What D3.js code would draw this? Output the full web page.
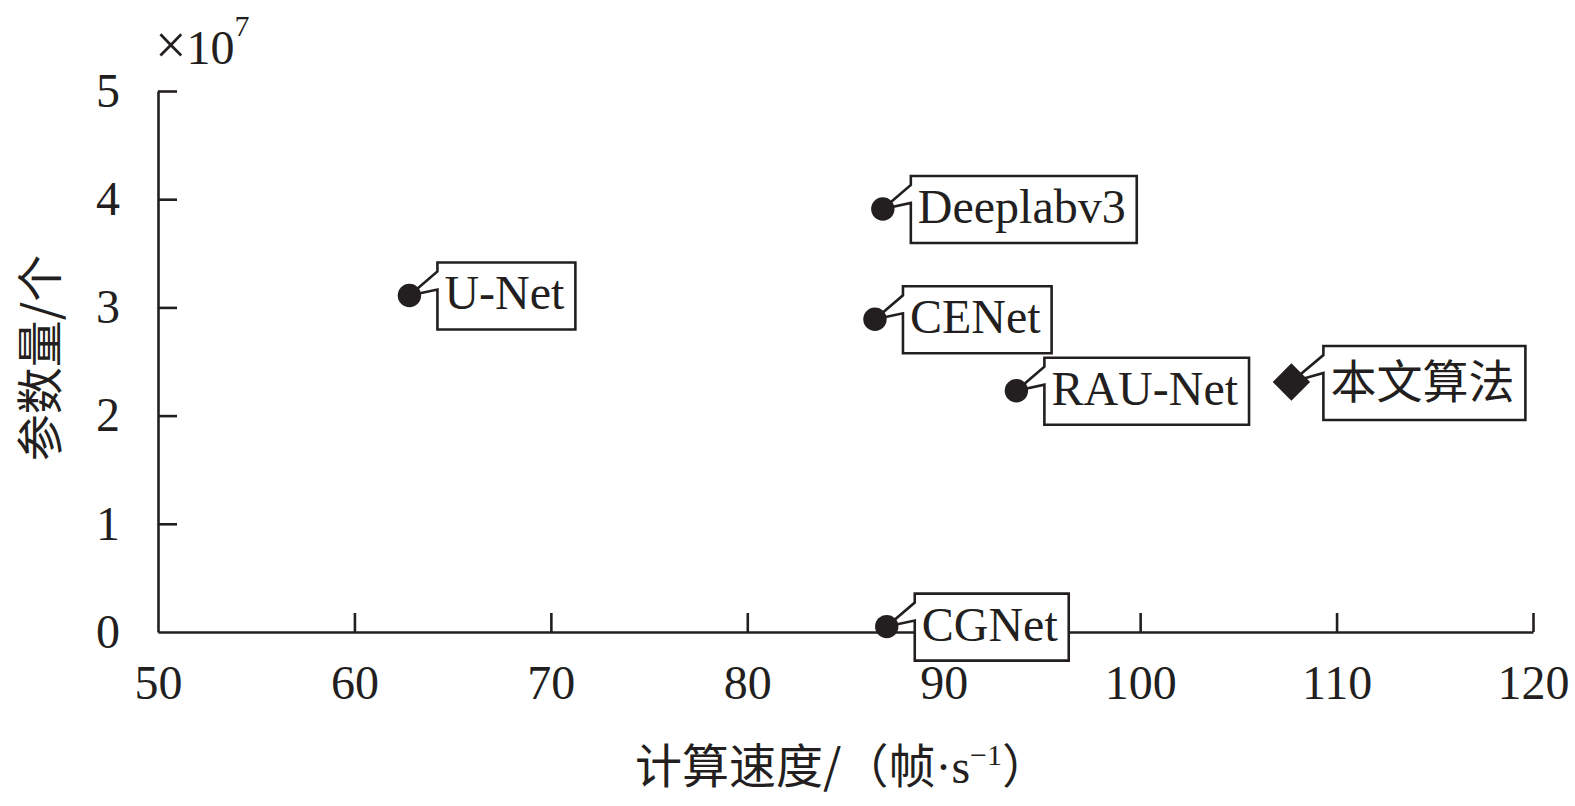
<!DOCTYPE html>
<html><head><meta charset="utf-8">
<script src="https://cdn.jsdelivr.net/npm/d3@7"></script>
<style>body{margin:0;background:#fff}svg{display:block}</style>
</head><body><svg id="c" width="1575" height="806"></svg>
<script>
// data
const models  = ["U-Net", "Deeplabv3", "CENet", "RAU-Net", "本文算法", "CGNet"];
const speed   = [62.8, 86.9, 86.5, 93.7, 107.7, 87.1];      // 帧/s
const params  = [3.11, 3.91, 2.89, 2.23, 2.31, 0.05];       // ×10^7 个
const markers = ["circle", "circle", "circle", "circle", "diamond", "circle"];
const xTicks  = [50, 60, 70, 80, 90, 100, 110, 120];
const yTicks  = [0, 1, 2, 3, 4, 5];

const serif = "'Liberation Serif', 'Times New Roman', serif";
const cjk = "'Noto Sans CJK SC', sans-serif";
const svg = d3.select("#c");

const x = d3.scaleLinear().domain([50, 120]).range([158, 1533]);
const y = d3.scaleLinear().domain([0, 5]).range([632, 91]);

// axes
const gx = svg.append("g").attr("transform", `translate(0,${y(0)})`)
  .call(d3.axisBottom(x).tickValues(xTicks).tickFormat(d3.format("d")).tickSizeInner(-19).tickSizeOuter(0).tickPadding(35));
const gy = svg.append("g").attr("transform", `translate(${x(50)},0)`)
  .call(d3.axisLeft(y).tickValues(yTicks).tickFormat(d3.format("d")).tickSizeInner(-19).tickSizeOuter(0).tickPadding(38));
[gx, gy].forEach(g => {
  g.selectAll("path.domain").attr("stroke", "#231f20").attr("stroke-width", 2.6);
  g.selectAll(".tick line").attr("stroke", "#231f20").attr("stroke-width", 2.6);
  g.selectAll(".tick text").attr("fill", "#231f20").style("font-family", serif).style("font-size", "48px");
});
gx.selectAll(".tick text").attr("dy", "0.66em");
gx.selectAll(".tick").filter(d => d === 50).select("line").remove();
gy.selectAll(".tick").filter(d => d === 0).select("line").remove();

// exponent
const ex = svg.append("text").attr("x", 155).attr("y", 64).attr("fill", "#231f20")
  .style("font-family", serif).style("font-size", "48px");
ex.append("tspan").style("font-size", "56px").text("×");
ex.append("tspan").text("10");
ex.append("tspan").attr("dy", -28).style("font-size", "30px").text("7");

// axis titles
svg.append("text").attr("transform", "translate(57,358) rotate(-90)")
  .attr("text-anchor", "middle").attr("fill", "#231f20")
  .style("font-family", cjk).style("font-size", "47px").text("参数量/个");

const xt = svg.append("text").attr("x", 842).attr("y", 783).attr("text-anchor", "middle")
  .attr("fill", "#231f20").style("font-family", cjk).style("font-size", "47px");
xt.append("tspan").text("计算速度/（帧");
xt.append("tspan").style("font-family", serif).style("font-size", "48px").text("·s");
xt.append("tspan").attr("dy", -18).style("font-family", serif).style("font-size", "30px").text("−1");
xt.append("tspan").attr("dy", 18).text("）");

// callouts
const rows = models.map((m, i) => ({ m, px: x(speed[i]), py: y(params[i]), mk: markers[i] }));
const call = svg.append("g");
rows.forEach(r => {
  const g = call.append("g");
  const isCjk = /[\u4e00-\u9fff]/.test(r.m);
  const bx = r.px + (isCjk ? 32 : 28), by = r.py - (isCjk ? 36 : 33);
  const h = isCjk ? 74 : 67;
  const path = g.append("path");
  const t = g.append("text").attr("x", bx + 7).attr("y", by + (isCjk ? 52 : 47))
    .attr("fill", "#231f20")
    .style("font-family", isCjk ? cjk : serif).style("font-size", isCjk ? "46px" : "48px").text(r.m);
  const w = t.node().getComputedTextLength() + 18;
  path.attr("d", `M${bx},${by}H${bx + w}V${by + h}H${bx}V${by + 27}L${r.px},${r.py}L${bx},${by + 9}Z`)
    .attr("fill", "#fff").attr("stroke", "#231f20").attr("stroke-width", 2.6).attr("stroke-linejoin", "miter");
  t.raise();
});

// markers
svg.append("g").selectAll("path").data(rows).join("path")
  .attr("transform", d => `translate(${d.px},${d.py}) rotate(${d.mk === "diamond" ? 45 : 0})`)
  .attr("d", d => d.mk === "diamond" ? d3.symbol(d3.symbolSquare, 700)() : d3.symbol(d3.symbolCircle, 430)())
  .attr("fill", "#231f20");
</script></body></html>
